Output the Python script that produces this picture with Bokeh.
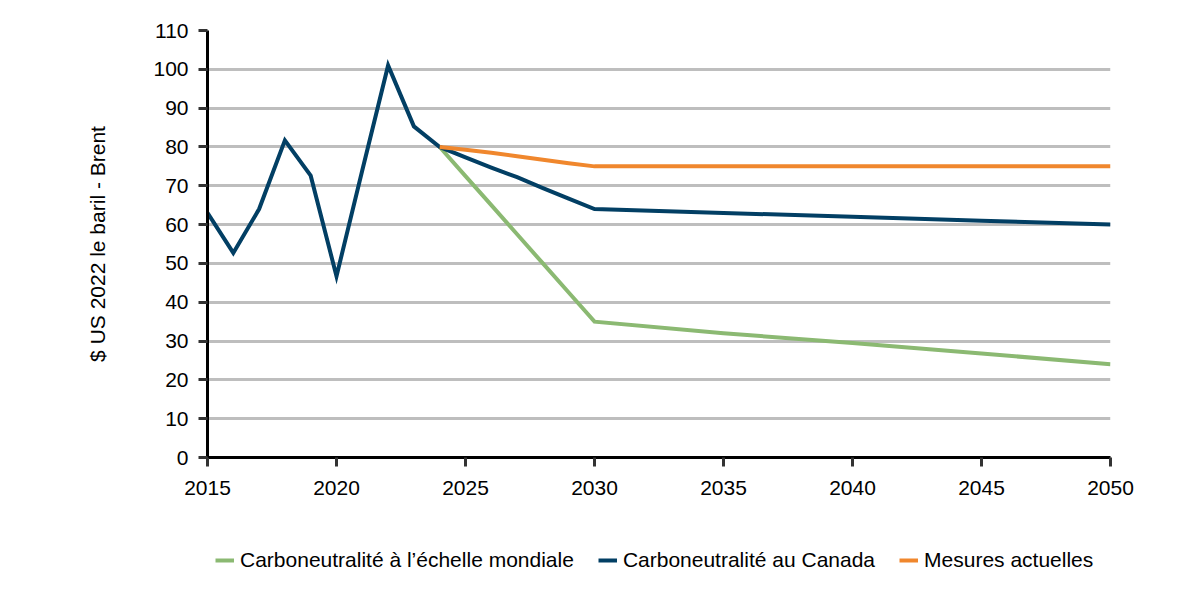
from bokeh.plotting import figure
from bokeh.models import Legend, LegendItem, FixedTicker, Range1d
from bokeh.layouts import column
from bokeh.embed import file_html
from bokeh.resources import INLINE

# --- data ---------------------------------------------------------------
canada_years = [2015, 2016, 2017, 2018, 2019, 2020, 2021, 2022, 2023, 2024,
                2025, 2026, 2027, 2028, 2029, 2030, 2035, 2040, 2045, 2050]
canada_vals = [63, 52.7, 64, 81.7, 72.6, 46.7, 74, 101, 85.3, 80,
               77.3, 74.7, 72.2, 69.4, 66.7, 64, 63, 62, 61, 60]

global_years = [2024, 2025, 2026, 2027, 2028, 2029, 2030, 2035, 2040, 2045, 2050]
global_vals = [80, 72.5, 65, 57.5, 50, 42.5, 35, 32, 29.5, 26.8, 24]

current_years = [2024, 2025, 2026, 2027, 2028, 2029, 2030, 2035, 2040, 2045, 2050]
current_vals = [80, 79.3, 78.5, 77.6, 76.7, 75.8, 75, 75, 75, 75, 75]

x_ticks = [2015, 2020, 2025, 2030, 2035, 2040, 2045, 2050]
y_ticks = list(range(0, 111, 10))

labels = ["Carboneutralité à l’échelle mondiale",
          "Carboneutralité au Canada",
          "Mesures actuelles"]
colors = ["#8BB972", "#023F64", "#F0872D"]
y_label = "$ US 2022 le baril - Brent"

FONT = "Liberation Sans"
LW = 4

series = [(global_years, global_vals), (canada_years, canada_vals),
          (current_years, current_vals)]

# --- main figure --------------------------------------------------------
p = figure(width=1184, height=520, output_backend="svg", toolbar_location=None,
           title=None, x_range=Range1d(2015, 2050), y_range=Range1d(0, 110),
           min_border_left=207, min_border_right=74,
           min_border_top=30, min_border_bottom=63)
p.outline_line_color = None
p.background_fill_color = "white"
p.border_fill_color = "white"

for (xs, ys), col in zip(series, colors):
    p.line(xs, ys, line_color=col, line_width=LW, line_join="miter")

p.xgrid.grid_line_color = None
p.ygrid.grid_line_color = "#BEBEBE"
p.ygrid.grid_line_width = 3
p.ygrid.ticker = FixedTicker(ticks=y_ticks)

for ax in (p.xaxis[0], p.yaxis[0]):
    ax.axis_line_color = "black"
    ax.axis_line_width = 3
    ax.major_tick_line_color = "#333333"
    ax.major_tick_line_width = 3
    ax.major_tick_out = 9
    ax.major_tick_in = 0
    ax.minor_tick_line_color = None
    ax.major_label_text_font = FONT
    ax.major_label_text_font_size = "21px"
    ax.major_label_text_color = "black"

p.xaxis[0].ticker = FixedTicker(ticks=x_ticks)
p.yaxis[0].ticker = FixedTicker(ticks=y_ticks)
p.xaxis[0].major_label_standoff = 14
p.yaxis[0].major_label_standoff = 10

p.yaxis[0].axis_label = y_label
p.yaxis[0].axis_label_text_font = FONT
p.yaxis[0].axis_label_text_font_size = "21px"
p.yaxis[0].axis_label_text_font_style = "normal"
p.yaxis[0].axis_label_text_color = "black"
p.yaxis[0].axis_label_standoff = 41

# --- legend strip (its frame is aligned with the main frame) ------------
lg = figure(width=1184, height=64, output_backend="svg", toolbar_location=None,
            title=None, x_axis_type=None, y_axis_type=None,
            x_range=Range1d(2015, 2050), y_range=Range1d(1000, 1001),
            min_border_left=0, min_border_right=0,
            min_border_top=0, min_border_bottom=0)
lg.outline_line_color = None
lg.xgrid.grid_line_color = None
lg.ygrid.grid_line_color = None
lg.background_fill_color = "white"
lg.border_fill_color = "white"

items = []
for (xs, ys), lab, col in zip(series, labels, colors):
    r = lg.line(xs, ys, line_color=col, line_width=LW)  # out of view, legend only
    items.append(LegendItem(label=lab, renderers=[r]))

legend = Legend(items=items, orientation="horizontal", location=(8, 12))
legend.padding = 0
legend.margin = 0
legend.spacing = 24
legend.glyph_width = 19
legend.glyph_height = 20
legend.label_standoff = 6
legend.label_text_font = FONT
legend.label_text_font_size = "21px"
legend.label_text_color = "black"
legend.border_line_color = None
legend.background_fill_alpha = 0
lg.add_layout(legend, "center")

layout = column(p, lg, spacing=0)
open("out.html", "w").write(file_html(layout, INLINE))
